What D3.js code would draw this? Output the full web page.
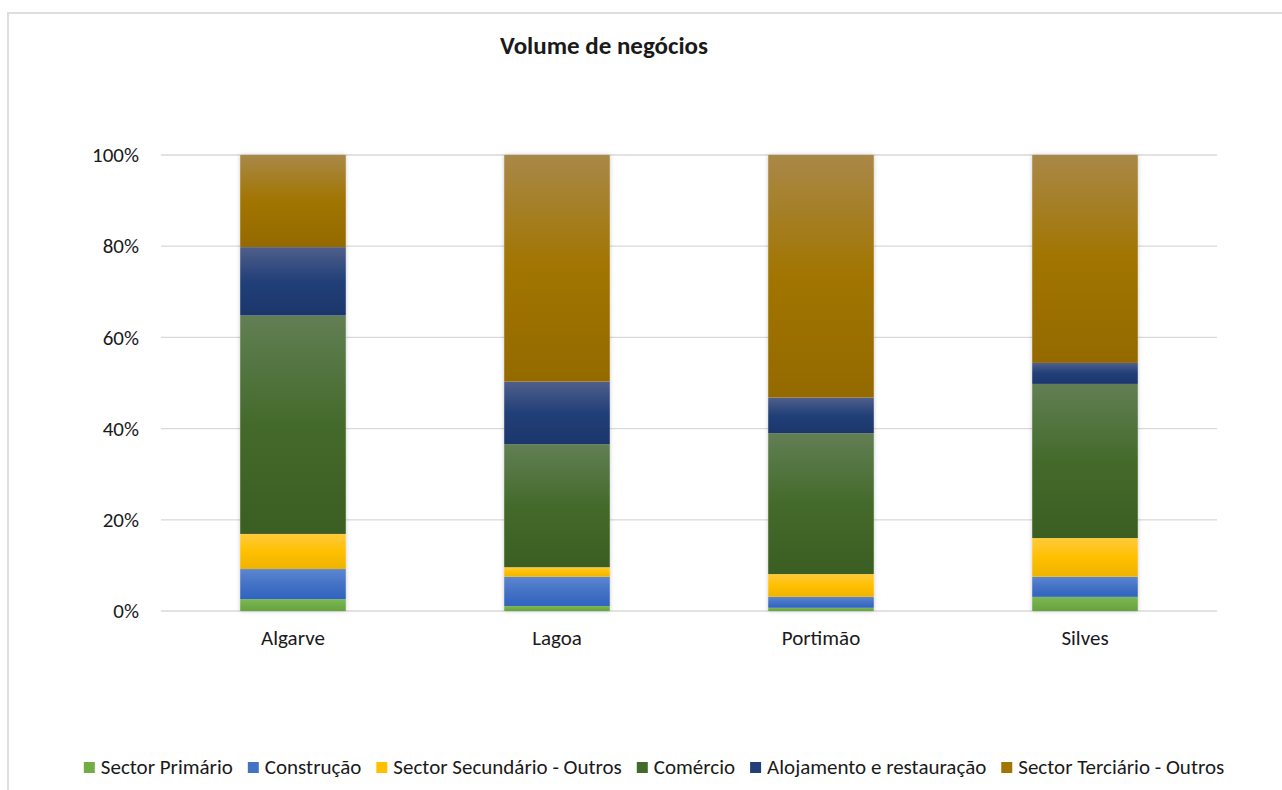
<!DOCTYPE html>
<html>
<head>
<meta charset="utf-8">
<script src="https://cdn.jsdelivr.net/npm/d3@7"></script>
<style>
  html, body { margin: 0; padding: 0; background: #fff; }
  svg { display: block; }
  text { font-family: Carlito, Calibri, "Open Sans", sans-serif; fill: #1a1a1a; }
</style>
</head>
<body>
<svg id="chart" width="1282" height="790"></svg>
<script>
// Share of turnover by sector, per area (percent of total)
const categories = ["Algarve", "Lagoa", "Portimão", "Silves"];
const seriesNames = [
  "Sector Primário",
  "Construção",
  "Sector Secundário - Outros",
  "Comércio",
  "Alojamento e restauração",
  "Sector Terciário - Outros"
];
const sectorPrimario   = [2.6, 1.1, 0.7, 3.1];
const construcao       = [6.6, 6.4, 2.4, 4.4];
const secundarioOutros = [7.7, 2.1, 5.0, 8.5];
const comercio         = [47.9, 27.0, 30.9, 33.8];
const alojamento       = [15.0, 13.7, 7.8, 4.6];
const terciarioOutros  = [20.2, 49.7, 53.2, 45.6];
const yTicks = [0, 20, 40, 60, 80, 100];

const seriesValues = [sectorPrimario, construcao, secundarioOutros, comercio, alojamento, terciarioOutros];

// colour ramps: lighter top, base, slightly darker bottom
const palette = [
  { top: "#7cb956", mid: "#70ad47", bot: "#67a23f" },
  { top: "#5c86d2", mid: "#4472c4", bot: "#3063c0" },
  { top: "#ffca3c", mid: "#ffc000", bot: "#efb300" },
  { top: "#627f54", mid: "#446a2b", bot: "#3b5e22" },
  { top: "#4f5f8b", mid: "#213f78", bot: "#1b366b" },
  { top: "#a98848", mid: "#a17500", bot: "#946a00" }
];

const FONT = "Carlito, Calibri, 'Open Sans', sans-serif";
const LABEL_SIZE = 21;

const svg = d3.select("#chart");
const W = 1282, H = 790;

// chart frame
svg.append("rect").attr("x", 8).attr("y", 13).attr("width", W + 10).attr("height", H + 10)
  .attr("fill", "#fff").attr("stroke", "#dedede").attr("stroke-width", 2);

const plot = { left: 161, right: 1217, top: 155, bottom: 611 };

const x = d3.scaleBand().domain(categories).range([plot.left, plot.right])
  .paddingInner(0.6).paddingOuter(0.3);
const y = d3.scaleLinear().domain([0, 100]).range([plot.bottom, plot.top]);

const defs = svg.append("defs");
palette.forEach((p, i) => {
  const g = defs.append("linearGradient").attr("id", "grad" + i)
    .attr("x1", 0).attr("y1", 0).attr("x2", 0).attr("y2", 1);
  g.append("stop").attr("offset", "0%").attr("stop-color", p.top);
  g.append("stop").attr("offset", "50%").attr("stop-color", p.mid);
  g.append("stop").attr("offset", "100%").attr("stop-color", p.bot);
});
const shadow = defs.append("filter").attr("id", "shadow")
  .attr("x", "-20%").attr("y", "-5%").attr("width", "140%").attr("height", "110%");
shadow.append("feDropShadow").attr("dx", 0).attr("dy", 0).attr("stdDeviation", 2)
  .attr("flood-color", "#000").attr("flood-opacity", 0.22);

// gridlines
svg.append("g")
  .selectAll("line").data(yTicks).join("line")
  .attr("x1", plot.left).attr("x2", plot.right)
  .attr("y1", d => y(d)).attr("y2", d => y(d))
  .attr("stroke", "#d9d9d9").attr("stroke-width", 1.3);

// y axis labels
const yAxis = d3.axisLeft(y).tickValues(yTicks).tickFormat(d => d + "%").tickSize(0).tickPadding(22);
const yg = svg.append("g").attr("transform", `translate(${plot.left},0)`).call(yAxis);
yg.select(".domain").remove();
yg.selectAll("text").attr("font-size", LABEL_SIZE).style("font-family", FONT).attr("fill", "#1a1a1a");

// stacked bars
const rows = categories.map((c, j) => {
  const r = { cat: c };
  seriesNames.forEach((s, i) => { r[s] = seriesValues[i][j]; });
  return r;
});
const stack = d3.stack().keys(seriesNames)(rows);

const barsG = svg.append("g");
// soft shadow under each full bar
barsG.selectAll("rect.sh").data(rows).join("rect").attr("class", "sh")
  .attr("x", d => x(d.cat)).attr("width", x.bandwidth())
  .attr("y", d => y(d3.sum(seriesNames, s => d[s])))
  .attr("height", d => y(0) - y(d3.sum(seriesNames, s => d[s])))
  .attr("fill", "#fff").attr("filter", "url(#shadow)");

stack.forEach((layer, i) => {
  barsG.append("g").selectAll("rect").data(layer).join("rect")
    .attr("x", d => x(d.data.cat))
    .attr("width", x.bandwidth())
    .attr("y", d => y(d[1]))
    .attr("height", d => y(d[0]) - y(d[1]))
    .attr("fill", `url(#grad${i})`);
});

// category labels
const xAxis = d3.axisBottom(x).tickSize(0).tickPadding(19);
const xg = svg.append("g").attr("transform", `translate(0,${plot.bottom})`).call(xAxis);
xg.select(".domain").remove();
xg.selectAll("text").attr("font-size", LABEL_SIZE).style("font-family", FONT).attr("fill", "#1a1a1a");

// title
svg.append("text").attr("x", 604).attr("y", 54).attr("text-anchor", "middle")
  .attr("font-size", 25).attr("font-weight", "bold").text("Volume de negócios");

// legend
const legend = svg.append("g");
const sw = 11, gapText = 6, gapItem = 15;
let cx = 0;
seriesNames.forEach((s, i) => {
  const g = legend.append("g");
  g.append("rect").attr("x", 0).attr("y", -12).attr("width", sw).attr("height", sw)
    .attr("fill", palette[i].mid);
  const t = g.append("text").attr("x", sw + gapText).attr("y", 0).attr("font-size", LABEL_SIZE).text(s);
  const w = sw + gapText + t.node().getComputedTextLength();
  g.attr("transform", `translate(${cx},0)`);
  cx += w + gapItem;
});
const totalW = cx - gapItem;
legend.attr("transform", `translate(${654 - totalW / 2},774)`);
</script>
</body>
</html>
